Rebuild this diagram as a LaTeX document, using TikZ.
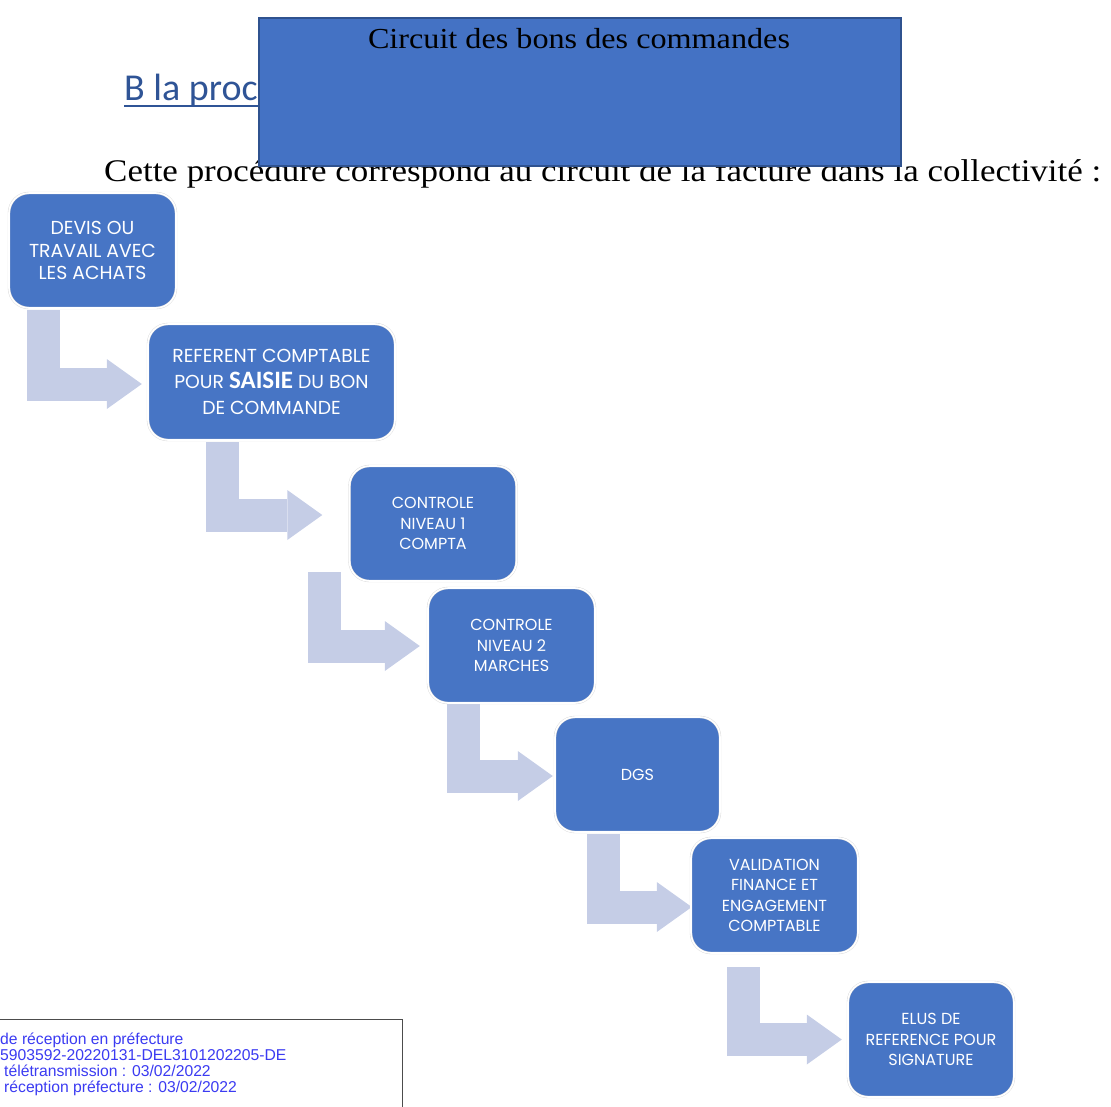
\documentclass[tikz,border=0pt]{standalone}
\usepackage{fontspec}
\setmainfont{Liberation Serif}
\newfontfamily\widefont[FakeStretch=1.11]{Liberation Serif}
\newfontfamily\boxfont{Poppins}
\newfontfamily\headfont{Carlito}
\newfontfamily\stampfont{Liberation Sans}
\usetikzlibrary{arrows.meta,calc,backgrounds}
\definecolor{boxblue}{HTML}{4775C5}
\definecolor{titleblue}{HTML}{4472C4}
\definecolor{titleedge}{HTML}{2F528F}
\definecolor{flowgrey}{HTML}{C5CDE6}
\definecolor{headblue}{HTML}{2F5496}
\definecolor{stampblue}{HTML}{3B3BF2}
\newcommand{\bigword}[1]{{\headfont\bfseries\fontsize{25}{25}\selectfont #1}}

\begin{document}
\begin{tikzpicture}[x=1pt, y=-1pt,
  stepbox/.style={draw=black!15, double=white, double distance=1.6pt, fill=boxblue,
                  rounded corners=20pt, align=center, text=white, inner sep=0pt,
                  font=\boxfont\fontsize{16}{20.5}\selectfont,
                  minimum width=167pt, minimum height=115pt},
  bigbox/.style={font=\boxfont\fontsize{18.8}{22.5}\selectfont},
  flow/.style={line width=33pt, draw=flowgrey, line join=miter,
               -{Triangle[width=50pt, length=35pt, line width=0pt]}}]
\useasboundingbox (0,0) rectangle (1111,1106);

% heading and sentence under the title box
\node[anchor=base west, inner sep=0pt, text=headblue,
      font=\headfont\fontsize{38}{38}\selectfont] (bhead) at (124,100) {B la proc};
\draw[headblue, line width=2pt] ($(bhead.base west)+(0,6)$) -- ++(150,0);
\node[anchor=base west, inner sep=0pt, font=\widefont\fontsize{31.5}{31.5}\selectfont]
  (intro) at (104,181) {Cette procédure correspond au circuit de la facture dans la collectivité :};

% title box
\node[draw=titleedge, line width=1.5pt, fill=titleblue, minimum width=642pt,
      minimum height=148pt, anchor=north west, inner sep=0pt] (title) at (258,17) {};
\node[anchor=base, inner sep=0pt, font=\widefont\fontsize{29}{29}\selectfont]
  (titletext) at (579,48) {Circuit des bons des commandes};

% steps
\node[stepbox, bigbox] (devis) at (92.5,250.5) {DEVIS OU\\TRAVAIL AVEC\\LES ACHATS};
\node[stepbox, font=\boxfont\fontsize{18.8}{26}\selectfont, minimum width=247pt,
      minimum height=116pt] (saisie) at (271.5,382)
  {REFERENT COMPTABLE\\POUR \bigword{SAISIE} DU BON\\DE COMMANDE};
\node[stepbox] (ctrlun) at (433,523.5) {CONTROLE\\NIVEAU 1\\COMPTA};
\node[stepbox] (ctrldeux) at (511.5,645.5) {CONTROLE\\NIVEAU 2\\MARCHES};
\node[stepbox, minimum width=165pt] (dgs) at (637.5,774.5) {DGS};
\node[stepbox] (valid) at (774.5,895.5) {VALIDATION\\FINANCE ET\\ENGAGEMENT\\COMPTABLE};
\node[stepbox, minimum width=166pt] (elus) at (931,1039.5) {ELUS DE\\REFERENCE POUR\\SIGNATURE};

% bent arrows
\begin{scope}[on background layer]
\draw[flow] ($(devis.south west)+(35,2)$) |- ($(saisie.west)+(-6,2)$);
\draw[flow] ($(saisie.south west)+(75,2)$) |- ($(ctrlun.west)+(-27,-8.5)$);
\draw[flow] ($(ctrlun.south west)+(-25,-9)$) |- ($(ctrldeux.west)+(-8,0.5)$);
\draw[flow] ($(ctrldeux.south west)+(36,1)$) |- ($(dgs.west)+(-2,1.5)$);
\draw[flow] ($(dgs.south west)+(48.5,2)$) |- ($(valid.west)+(1,11.5)$);
\draw[flow] ($(valid.south west)+(53,14)$) |- ($(elus.west)+(-6,0)$);
\end{scope}

% stamp
\node[draw=black!70, line width=1pt, fill=white, anchor=north west, inner sep=0pt,
      minimum width=404pt, minimum height=100pt] (stamp) at (-2,1019) {};
\node[anchor=north west, inner sep=0pt, align=left, text=stampblue,
      font=\stampfont\fontsize{15.7}{16}\selectfont] (stamptext) at (0,1033)
  {de réception en préfecture\\5903592-20220131-DEL3101202205-DE\\
   \hspace*{4pt}télétransmission : 03/02/2022\\\hspace*{4pt}réception préfecture : 03/02/2022};
\end{tikzpicture}
\end{document}
